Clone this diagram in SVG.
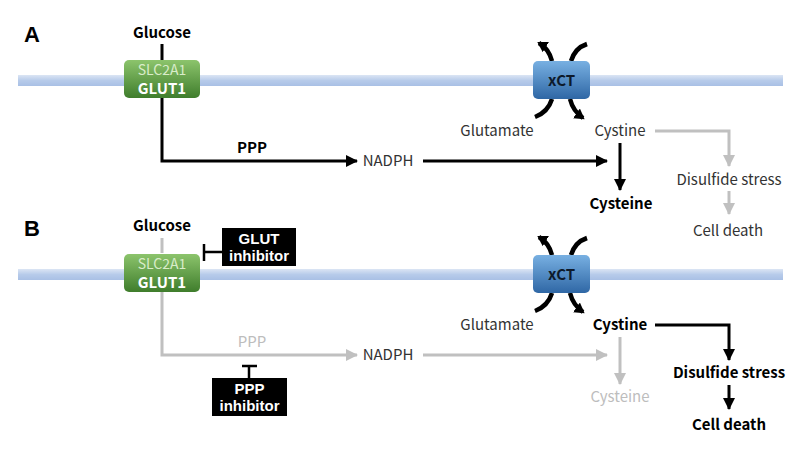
<svg xmlns="http://www.w3.org/2000/svg" width="800" height="450" viewBox="0 0 800 450">
<defs>
<linearGradient id="mem" x1="0" y1="0" x2="0" y2="1">
<stop offset="0" stop-color="#dbe5f4"/>
<stop offset="0.5" stop-color="#b7cbea"/>
<stop offset="1" stop-color="#a9c0e5"/>
</linearGradient>
<linearGradient id="green" x1="0" y1="0" x2="0" y2="1">
<stop offset="0" stop-color="#8cc46c"/>
<stop offset="1" stop-color="#3f7d2c"/>
</linearGradient>
<linearGradient id="blue" x1="0" y1="0" x2="0" y2="1">
<stop offset="0" stop-color="#78b0e2"/>
<stop offset="1" stop-color="#2f67a5"/>
</linearGradient>
<marker id="ab" markerUnits="userSpaceOnUse" markerWidth="14" markerHeight="14" refX="11" refY="6" orient="auto">
<path d="M0,0 L12,6 L0,12 Z" fill="#000"/>
</marker>
<marker id="ag" markerUnits="userSpaceOnUse" markerWidth="14" markerHeight="14" refX="11" refY="6" orient="auto">
<path d="M0,0 L12,6 L0,12 Z" fill="#c0c0c0"/>
</marker>
<marker id="ax" markerUnits="userSpaceOnUse" markerWidth="14" markerHeight="14" refX="8" refY="6" orient="auto">
<path d="M0,0 L10,6 L0,12 Z" fill="#000"/>
</marker>
</defs>
<style>
text{font-family:"Noto Sans CJK JP","Noto Sans",sans-serif;font-size:15px;text-anchor:middle}
.b{font-weight:bold;fill:#000}
.n{fill:#333}
.g{fill:#bdbdbd}
.lbl{font-family:"Liberation Sans",sans-serif;font-size:22px;font-weight:bold;text-anchor:start}
.kb{stroke:#000;stroke-width:3;fill:none}
.kg{stroke:#c0c0c0;stroke-width:3;fill:none}
.x{stroke:#000;stroke-width:4.5;fill:none}
.w{fill:#fff;font-weight:bold}
.s{fill:#d9ecc9;font-size:14px}
.t{fill:#fff;font-weight:bold;font-size:15px;font-family:"Liberation Sans",sans-serif}
</style>

<!-- membranes -->
<rect x="18" y="75" width="765" height="11" fill="url(#mem)"/>
<rect x="18" y="269" width="765" height="11" fill="url(#mem)"/>

<text class="lbl" x="24" y="42">A</text>
<text class="lbl" x="24" y="236">B</text>

<g id="connectors">
<!-- A -->
<path class="kb" d="M162,44 V60"/>
<path class="kb" d="M162,98 V161 H357" marker-end="url(#ab)"/>
<path class="kb" d="M423,161 H607" marker-end="url(#ab)"/>
<path class="kb" d="M620,143 V190" marker-end="url(#ab)"/>
<path class="kg" d="M655,131 H729 V166" marker-end="url(#ag)"/>
<path class="kg" d="M729,191 V214" marker-end="url(#ag)"/>
<path class="x" d="M552,61 Q549,49 539,43" marker-end="url(#ax)"/>
<path class="x" d="M571,61 Q575,48 587,44"/>
<path class="x" d="M552,99 Q548,112 535,117"/>
<path class="x" d="M570,99 Q573,111 583,118" marker-end="url(#ax)"/>
<!-- B -->
<path class="kg" d="M162,238 V253"/>
<path class="kg" d="M162,292 V355 H357" marker-end="url(#ag)"/>
<path class="kg" d="M423,355 H607" marker-end="url(#ag)"/>
<path class="kg" d="M620,337 V384" marker-end="url(#ag)"/>
<path class="kb" d="M655,325 H729 V360" marker-end="url(#ab)"/>
<path class="kb" d="M729,385 V409" marker-end="url(#ab)"/>
<path class="x" d="M552,255 Q549,243 539,237" marker-end="url(#ax)"/>
<path class="x" d="M571,255 Q575,242 587,238"/>
<path class="x" d="M552,293 Q548,306 535,311"/>
<path class="x" d="M570,293 Q573,305 583,312" marker-end="url(#ax)"/>
<!-- inhibition -->
<path d="M222,252 H204 M204,244 V261" stroke="#000" stroke-width="2.5" fill="none"/>
<path d="M249,378 V366 M242,366 H257" stroke="#000" stroke-width="2.5" fill="none"/>
</g>

<!-- Panel A nodes -->
<g id="glucoseA"><text class="b" x="162" y="38">Glucose</text></g>
<g id="glut1A">
<rect x="124" y="60" width="76" height="38" rx="5" fill="url(#green)"/>
<text class="s" x="162" y="75">SLC2A1</text>
<text class="w" x="162" y="94">GLUT1</text>
</g>
<g id="pppA"><text class="b" x="252" y="153">PPP</text></g>
<g id="nadphA"><text class="n" x="388" y="166">NADPH</text></g>
<g id="xctA">
<rect x="533" y="61" width="57" height="38" rx="5" fill="url(#blue)"/>
<text class="b" x="561.5" y="86" style="fill:#0d1a2b">xCT</text>
</g>
<g id="glutamateA"><text class="n" x="497" y="136">Glutamate</text></g>
<g id="cystineA"><text class="n" x="620" y="136">Cystine</text></g>
<g id="cysteineA"><text class="b" x="621" y="209">Cysteine</text></g>
<g id="disulfideA"><text class="n" x="729" y="185">Disulfide stress</text></g>
<g id="deathA"><text class="n" x="728" y="236">Cell death</text></g>

<!-- Panel B nodes -->
<g id="glucoseB"><text class="b" x="162" y="231">Glucose</text></g>
<g id="glut1B">
<rect x="124" y="254" width="76" height="38" rx="5" fill="url(#green)"/>
<text class="s" x="162" y="269">SLC2A1</text>
<text class="w" x="162" y="288">GLUT1</text>
</g>
<g id="glutInhibitor">
<rect x="222" y="228" width="74" height="38" fill="#000"/>
<text class="t" x="259" y="244">GLUT</text>
<text class="t" x="259" y="261">inhibitor</text>
</g>
<g id="pppB"><text class="g" x="252" y="347">PPP</text></g>
<g id="pppInhibitor">
<rect x="212" y="378" width="75" height="38" fill="#000"/>
<text class="t" x="249.5" y="394">PPP</text>
<text class="t" x="249.5" y="411">inhibitor</text>
</g>
<g id="nadphB"><text class="n" x="388" y="360">NADPH</text></g>
<g id="xctB">
<rect x="533" y="255" width="57" height="38" rx="5" fill="url(#blue)"/>
<text class="b" x="561.5" y="280" style="fill:#0d1a2b">xCT</text>
</g>
<g id="glutamateB"><text class="n" x="497" y="330">Glutamate</text></g>
<g id="cystineB"><text class="b" x="620" y="330">Cystine</text></g>
<g id="cysteineB"><text class="g" x="620" y="402">Cysteine</text></g>
<g id="disulfideB"><text class="b" x="729" y="378">Disulfide stress</text></g>
<g id="deathB"><text class="b" x="729" y="430">Cell death</text></g>
</svg>
